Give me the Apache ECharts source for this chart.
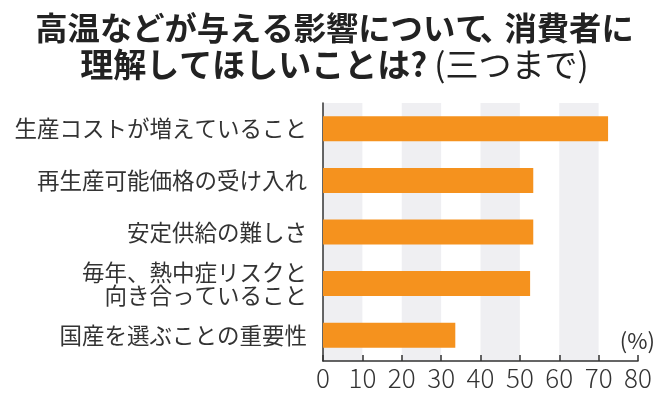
<!DOCTYPE html>
<html>
<head>
<meta charset="utf-8">
<script src="https://cdn.jsdelivr.net/npm/echarts@6/dist/echarts.min.js"></script>
<style>
html,body{margin:0;padding:0;background:#fff;}
#chart{width:669px;height:400px;}
</style>
</head>
<body>
<div id="chart"></div>
<script>
//項目
var categories = ['生産コストが増えていること', '再生産可能価格の受け入れ', '安定供給の難しさ', '毎年、熱中症リスクと\n向き合っていること', '国産を選ぶことの重要性'];
//割合(%)
var values = [72.4, 53.4, 53.4, 52.6, 33.6];
//目盛り
var xTicks = [0, 10, 20, 30, 40, 50, 60, 70, 80];

var font = '"Noto Sans CJK JP", "Noto Sans", sans-serif';
var myChart = echarts.init(document.getElementById('chart'));

var option = {
	animation: false,
	title: {
		text: '{b|高温などが与える影響について}{c|、}{b|消費者に}\n{b2|理解してほしいことは?}{r|(三つまで)}',
		left: 'center',
		top: 4,
		textStyle: {
			rich: {
				b: {fontFamily: font, fontWeight: 'bold', fontSize: 32.3, color: '#222', lineHeight: 37},
				c: {fontFamily: font, fontWeight: 'bold', fontSize: 32.3, color: '#222', lineHeight: 37, width: 17},
				b2: {fontFamily: font, fontWeight: 'bold', fontSize: 33, color: '#222', lineHeight: 37},
				r: {fontFamily: font, fontWeight: 'normal', fontSize: 33, color: '#222', lineHeight: 37, padding: [0, 0, 0, 7]}
			}
		}
	},
	grid: {
		left: 323,
		right: 31,
		top: 103,
		bottom: 39
	},
	xAxis: {
		type: 'value',
		min: 0,
		max: 80,
		interval: 10,
		axisLine: {show: true, lineStyle: {color: '#333', width: 1.5}},
		axisTick: {show: true, inside: true, length: 6, lineStyle: {color: '#333', width: 1.5}},
		axisLabel: {
			color: '#333', fontSize: 26, fontFamily: font, fontWeight: 300, margin: 4,
			formatter: function(v){ return xTicks.indexOf(v) >= 0 ? v : ''; }
		},
		splitLine: {show: false},
		//背景の縞
		splitArea: {show: true, areaStyle: {color: ['#efeff2', 'rgba(255,255,255,0)']}}
	},
	yAxis: {
		type: 'category',
		inverse: true,
		data: categories,
		axisLine: {show: true, lineStyle: {color: '#333', width: 1.5}},
		axisTick: {show: false},
		axisLabel: {color: '#333', fontSize: 22.5, fontFamily: font, margin: 16, lineHeight: 23, align: 'right'}
	},
	graphic: [{
		type: 'text',
		right: 14,
		top: 330,
		style: {text: '(%)', fontSize: 22, fontFamily: font, fill: '#333'}
	}],
	series: [{
		type: 'bar',
		data: values,
		barWidth: 25,
		itemStyle: {color: '#F5921E'}
	}]
};
myChart.setOption(option);
</script>
</body>
</html>
